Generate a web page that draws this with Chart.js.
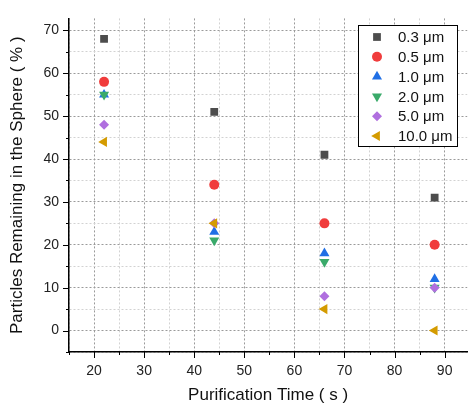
<!DOCTYPE html>
<html>
<head>
<meta charset="utf-8">
<script src="https://cdn.jsdelivr.net/npm/chart.js@4.4.1/dist/chart.umd.min.js"></script>
<style>
  html, body { margin: 0; padding: 0; background: #fff; }
  #wrap { width: 473px; height: 406px; position: relative; }
</style>
</head>
<body>
<div id="wrap"><canvas id="purifyChart"></canvas></div>
<script>
// --- data ---
const times = [22, 44, 66, 88];
const sizeLabels = ['0.3 μm', '0.5 μm', '1.0 μm', '2.0 μm', '5.0 μm', '10.0 μm'];
const remain03 = [68, 51, 41, 31];
const remain05 = [58, 34, 25, 20];
const remain10 = [55, 23, 18, 12];
const remain20 = [55, 21, 16, 10];
const remain50 = [48, 25, 8, 10];
const remain100 = [44, 25, 5, 0];

const seriesValues = [remain03, remain05, remain10, remain20, remain50, remain100];
const colors = ['#4d4d4d', '#f03c3c', '#1f6fe5', '#3aaa6a', '#b06fdf', '#d49b00'];
const shapes = ['rect', 'circle', 'triangle', 'triangle', 'rectRot', 'triangle'];
const rotations = [0, 0, 0, 180, 0, 270];
const radii = [5.5, 5, 5.8, 5.8, 5, 5.8];

const FONT = "'Liberation Sans', Arial, sans-serif";

document.addEventListener('DOMContentLoaded', function() {

    const datasets = seriesValues.map((vals, i) => ({
        label: sizeLabels[i],
        data: times.map((t, j) => ({ x: t, y: vals[j] })),
        backgroundColor: colors[i],
        borderColor: colors[i],
        borderWidth: 0,
        pointStyle: shapes[i],
        pointRotation: rotations[i],
        pointRadius: radii[i],
        pointHoverRadius: radii[i],
        order: seriesValues.length - i   // later series on top
    }));

    // tick marks outside the axes (major long, minor short)
    const tickMarks = {
        id: 'tickMarks',
        afterDraw(chart) {
            const c = chart.ctx;
            const area = chart.chartArea;
            c.save();
            c.strokeStyle = '#000';
            c.lineWidth = 1;
            chart.scales.y.ticks.forEach(t => {
                const py = Math.round(chart.scales.y.getPixelForValue(t.value)) + 0.5;
                const len = t.value % 10 === 0 ? 6 : 3;
                c.beginPath();
                c.moveTo(area.left - len, py);
                c.lineTo(area.left, py);
                c.stroke();
            });
            chart.scales.x.ticks.forEach(t => {
                const px = Math.round(chart.scales.x.getPixelForValue(t.value)) + 0.5;
                const len = t.value % 10 === 0 ? 6 : 3;
                c.beginPath();
                c.moveTo(px, area.bottom);
                c.lineTo(px, area.bottom + len);
                c.stroke();
            });
            c.restore();
        }
    };

    // boxed legend inside the plot
    const boxLegend = {
        id: 'boxLegend',
        afterDraw(chart) {
            const c = chart.ctx;
            c.save();
            c.fillStyle = '#fff';
            c.fillRect(358, 25, 99, 121);
            c.strokeStyle = '#000';
            c.lineWidth = 1;
            c.strokeRect(358.5, 25.5, 99, 121);
            c.font = '15px ' + FONT;
            c.textBaseline = 'middle';
            sizeLabels.forEach((lab, i) => {
                const y = 37 + i * 19.8;
                c.fillStyle = colors[i];
                Chart.helpers.drawPoint(c, {
                    pointStyle: shapes[i],
                    rotation: rotations[i],
                    radius: radii[i],
                    borderWidth: 0
                }, 377, y);
                c.fillStyle = '#111';
                c.fillText(lab, 398, y + 1);
            });
            c.restore();
        }
    };

    const gridColor = (ctx) => (ctx.tick && ctx.tick.value % 10 === 0) ? '#9a9a9a' : '#d2d2d2';

    new Chart(document.getElementById('purifyChart'), {
        type: 'scatter',
        data: { datasets: datasets },
        options: {
            responsive: true,
            maintainAspectRatio: false,
            animation: false,
            layout: { padding: { top: 10, right: 1, left: 0, bottom: 0 } },
            plugins: {
                legend: { display: false },
                tooltip: { enabled: false }
            },
            scales: {
                x: {
                    type: 'linear',
                    min: 15,
                    max: 94.5,
                    afterFit: (s) => { s.height = 54; },
                    ticks: {
                        stepSize: 5,
                        includeBounds: false,
                        autoSkip: false,
                        maxRotation: 0,
                        padding: 11,
                        color: '#222',
                        font: { family: FONT, size: 14 },
                        callback: (v) => v % 10 === 0 ? v : ''
                    },
                    grid: { color: gridColor, lineWidth: 1, drawTicks: false },
                    border: { display: true, color: '#000', width: 1.5, dash: [2, 2] },
                    title: {
                        display: true,
                        text: 'Purification Time ( s )',
                        color: '#111',
                        font: { family: FONT, size: 17 },
                        padding: { top: 0, bottom: 0 }
                    }
                },
                y: {
                    type: 'linear',
                    min: -5,
                    max: 72.8,
                    afterFit: (s) => { s.width = 69; },
                    ticks: {
                        stepSize: 5,
                        includeBounds: false,
                        autoSkip: false,
                        padding: 10,
                        color: '#222',
                        font: { family: FONT, size: 14 },
                        callback: (v) => v % 10 === 0 ? v : ''
                    },
                    grid: { color: gridColor, lineWidth: 1, drawTicks: false },
                    border: { display: true, color: '#000', width: 1.5, dash: [2, 2] },
                    title: {
                        display: true,
                        text: 'Particles Remaining in the Sphere ( % )',
                        color: '#111',
                        font: { family: FONT, size: 17 },
                        padding: { top: 7, bottom: 0 }
                    }
                }
            }
        },
        plugins: [tickMarks, boxLegend]
    });
});
</script>
</body>
</html>
